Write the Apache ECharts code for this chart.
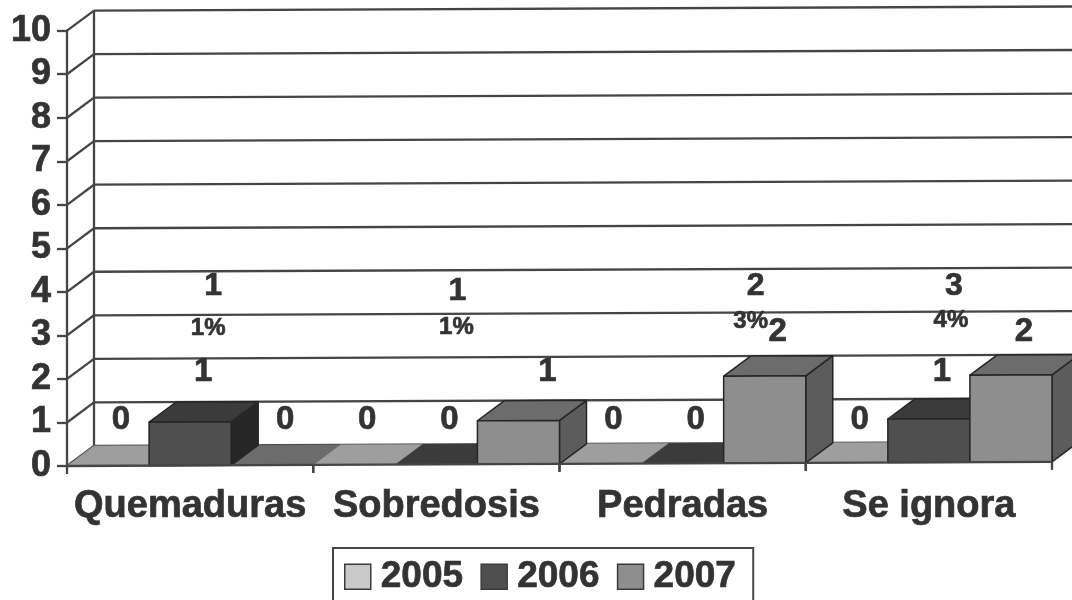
<!DOCTYPE html>
<html><head><meta charset="utf-8">
<style>html,body{margin:0;padding:0;background:#fff}#c{width:1072px;height:600px}</style>
<script src="https://cdn.jsdelivr.net/npm/echarts@6/dist/echarts.min.js"></script>
</head><body><div id="c"></div>
<script>
const categories = ["Quemaduras","Sobredosis","Pedradas","Se ignora"];
const years = ["2005","2006","2007"];
const values2005 = [0,0,0,0];
const values2006 = [1,0,0,1];
const values2007 = [0,1,2,2];
const totals = [1,1,2,3];
const percents = ["1%","1%","3%","4%"];
const yTicks = [0,1,2,3,4,5,6,7,8,9,10];

// layout and style, separate from the data
const DX = 27, DY = 20, TILT = 0.0042, ORIGIN_X = 67;
const INK = "#333333", LINE = "#454545", EDGE = "#262626", LINE_W = 2.3;
const FONT = '"Liberation Sans", Arial, sans-serif';
const palette = [
  {front:"#c9c9c9", top:"#9e9e9e", side:"#8a8a8a"},
  {front:"#4f4f4f", top:"#3b3b3b", side:"#262626"},
  {front:"#8e8e8e", top:"#6c6c6c", side:"#5c5c5c"}
];
const totalDx = [23,21,73,25], percentDx = [18,20,68,22];
const totalAt = [4.2,4.08,4.2,4.2], percentAt = [3.23,3.25,3.38,3.4];
const labelNudge = {"1,2":16};

const tilt = (x,y) => [x, y - (x - ORIGIN_X) * TILT];
const pts = list => list.map(p => tilt(p[0],p[1]));

function line(a,b,c,w){
  const p = tilt(a[0],a[1]), q = tilt(b[0],b[1]);
  return {type:"line", z2:1, silent:true,
    shape:{x1:p[0],y1:p[1],x2:q[0],y2:q[1]},
    style:{stroke:c||LINE, lineWidth:w||LINE_W}};
}
function text(s,x,y,size,z){
  return {type:"text", z2:z||200, silent:true,
    style:{text:String(s), x:x, y:y+2.5, align:"center", verticalAlign:"middle",
      fill:INK, stroke:INK, lineWidth:0.7, font:"bold "+size+"px "+FONT}};
}
function poly(points,fill,z,stroke){
  return {type:"polygon", z2:z, silent:true, shape:{points:pts(points)},
    style:{fill:fill, stroke:stroke||fill, lineWidth:stroke?1.5:0.5, lineJoin:"round"}};
}

function wallItem(params, api){
  const tick = api.value(0);
  const rect = params.coordSys;
  const yy = api.coord([0,tick])[1];
  const left = rect.x, right = rect.x + rect.width;
  const kids = [
    line([left,yy],[left+DX,yy-DY]),
    line([left+DX,yy-DY],[right+DX+6,yy-DY])
  ];
  if(tick===10) kids.push(line([left+DX,yy-DY],[left+DX,rect.y+rect.height-DY]));
  return {type:"group", children:kids};
}
function floorItem(params, api){
  const idx = api.value(0);
  const band = api.size([1,0])[0];
  const rect = params.coordSys;
  const base = rect.y + rect.height;
  const cx = api.coord([idx,0])[0];
  const x = cx - band/2;
  const kids = [line([x,base],[x,base+8])];
  kids[0].z2 = 150;
  const f = line([x,base],[x+band,base]); f.z2 = 150; kids.push(f);
  const end = line([x+band,base],[x+band,base+8]); end.z2 = 150; kids.push(end);
  return {type:"group", children:kids};
}
function barItem(s){
  return function(params, api){
    const idx = api.value(0), v = api.value(1);
    const band = api.size([1,0])[0], w = band/3;
    const c = palette[s];
    const x0 = api.coord([idx,0])[0] - band/2 + s*w, x1 = x0 + w;
    const yb = api.coord([idx,0])[1], yt = api.coord([idx,v])[1];
    const kids = [];
    if(v===0){
      kids.push(poly([[x0,yb],[x1,yb],[x1+DX,yb-DY],[x0+DX,yb-DY]],c.top,5));
    } else {
      const z = 10 + idx*3 + s;
      kids.push(poly([[x1,yb],[x1+DX,yb-DY],[x1+DX,yt-DY],[x1,yt]],c.side,z,EDGE));
      kids.push(poly([[x0,yt],[x1,yt],[x1+DX,yt-DY],[x0+DX,yt-DY]],c.top,z,EDGE));
      kids.push(poly([[x0,yb],[x1,yb],[x1,yt],[x0,yt]],c.front,z,EDGE));
    }
    const lift = v===0 ? 46 : (v===1 ? 51 : 47);
    const nudge = labelNudge[idx+","+s] || 0;
    kids.push(text(v,(x0+x1)/2+13+nudge,yt-lift-2.5,33));
    return {type:"group", children:kids};
  };
}
function notesItem(params, api){
  const i = api.value(0);
  const cx = api.coord([i,0])[0];
  return {type:"group", children:[
    text(totals[i], cx+totalDx[i], api.coord([i,totalAt[i]])[1], 32),
    text(percents[i], cx+percentDx[i], api.coord([i,percentAt[i]])[1], 24)
  ]};
}

const yearValues = [values2005,values2006,values2007];
const barSeries = years.map((y,s)=>({
  name:y, type:"custom", renderItem:barItem(s), clip:false, silent:true,
  itemStyle:{color:palette[s].front},
  encode:{x:0,y:1},
  data:categories.map((c,i)=>[i,yearValues[s][i]])
}));

const heavy = {textBorderColor:INK,textBorderWidth:0.7};
const chart = echarts.init(document.getElementById("c"),null,{renderer:"canvas"});
chart.setOption({
  animation:false,
  backgroundColor:"#ffffff",
  textStyle:{fontFamily:FONT},
  grid:{left:67,right:20,top:30.7,bottom:134,containLabel:false},
  xAxis:{type:"category",data:categories,
    axisLine:{show:false},axisTick:{show:false},
    axisLabel:{color:INK,fontWeight:"bold",fontSize:38,fontFamily:FONT,margin:22,interval:0,...heavy}},
  yAxis:{type:"value",min:0,max:10,interval:1,
    axisLine:{show:true,lineStyle:{color:LINE,width:LINE_W}},
    axisTick:{show:true,length:10,lineStyle:{color:LINE,width:LINE_W}},
    axisLabel:{color:INK,fontWeight:"bold",fontSize:36,fontFamily:FONT,margin:16,padding:[5,0,0,0],...heavy},
    splitLine:{show:false}},
  legend:{show:true,data:years.map(n=>({name:n,icon:"rect"})),
    left:333,top:548,orient:"horizontal",selectedMode:false,
    itemWidth:26,itemHeight:25,itemGap:17,
    padding:[10,17,20,11],
    borderColor:LINE,borderWidth:2,backgroundColor:"#fff",
    itemStyle:{borderColor:"#3a3a3a",borderWidth:1.5},
    textStyle:{color:INK,fontWeight:"bold",fontSize:37,fontFamily:FONT,padding:[0,0,0,5],...heavy}},
  series:[
    {name:"walls",type:"custom",renderItem:wallItem,silent:true,clip:false,encode:{y:0},
      data:yTicks.map(t=>[t])},
    {name:"floor",type:"custom",renderItem:floorItem,silent:true,clip:false,encode:{x:0},
      data:categories.map((c,i)=>[i])},
    ...barSeries,
    {name:"notes",type:"custom",renderItem:notesItem,silent:true,clip:false,encode:{x:0},
      data:categories.map((c,i)=>[i])}
  ]
});
</script></body></html>
